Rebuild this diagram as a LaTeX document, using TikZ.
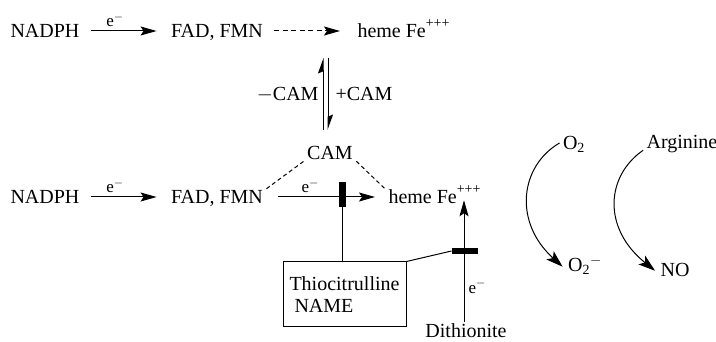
\documentclass[tikz,border=0pt]{standalone}
\usepackage{fontspec}
\setmainfont{Liberation Serif}
\usetikzlibrary{arrows.meta, calc}

\newcommand{\ferric}{Fe\raisebox{0.5em}{\fontsize{14}{14}\selectfont +++}}

\begin{document}
\begin{tikzpicture}[x=1pt, y=-1pt, line width=1pt,
        font=\fontsize{20}{22}\selectfont,
        every node/.style={inner xsep=3pt, inner ysep=1pt, text height=13.5pt, text depth=0pt},
        rxn/.style={-{Stealth[length=16pt, width=9pt, inset=3pt]}},
        curv/.style={-{Stealth[length=17pt, width=11pt, inset=4pt]}},
        harp/.style={-{Stealth[left, length=14pt, width=10pt, inset=2pt]}},
        lbl/.style={font=\fontsize{17}{18}\selectfont, inner sep=1pt, text height=10pt},
        blocker/.style={fill=black, inner sep=0pt, text height=0pt}]
    \useasboundingbox (0,0) rectangle (716,342);

    % Electron transfer, without and with CAM
    \foreach \r/\y in {1/31, 2/197} {
        \node (nadph\r) at (45,\y) {NADPH};
        \node (fad\r) at (217,\y) {FAD, FMN};
        \draw[rxn, shorten <=8pt, shorten >=11pt] (nadph\r) -- node[lbl, above=3pt, pos=0.38] {e$^-$} (fad\r);
    }
    \node[anchor=west] (heme1) at (354,31) {heme \ferric};
    \node[anchor=west] (heme2) at (385,197) {heme \ferric};
    \draw[rxn, dash pattern=on 5pt off 3.5pt, shorten <=8pt, shorten >=14pt] (fad1) -- (heme1);
    \draw[rxn, shorten <=12pt, shorten >=10pt] (fad2) -- node[lbl, above=3pt, pos=0.37] {e$^-$} (heme2);

    % CAM binding
    \coordinate (eqtop) at (325.5,58);
    \coordinate (eqbot) at (325.5,130);
    \draw[harp] ([xshift=-2.5pt]eqbot) -- node[left=1pt] {$-$CAM} ([xshift=-2.5pt]eqtop);
    \draw[harp] ([xshift=2.5pt]eqtop) -- node[right=4pt] {+CAM} ([xshift=2.5pt]eqbot);
    \node (cam) at (330,153) {CAM};
    \draw[dash pattern=on 4pt off 3pt] (fad2.north east) -- (cam.south west);
    \draw[dash pattern=on 4pt off 3pt] (cam.south east) -- (heme2.north west);

    % Inhibitors
    \node[blocker, minimum width=7pt, minimum height=25pt] (blk1) at (342,194.5) {};
    \node[blocker, minimum width=26pt, minimum height=6pt] (blk2) at (465,251) {};
    \node[draw, align=left, minimum width=123pt, minimum height=65pt, text height=, text depth=] (thio) at (344.5,294.5) {Thiocitrulline\\\hspace{5pt}NAME};
    \draw (blk1.south) -- (blk1.south |- thio.north);
    \draw (thio.north east) -- (blk2.west);

    % Dithionite
    \node (dith) at (466,331) {Dithionite};
    \draw[rxn, shorten <=9pt, shorten >=-5pt] ([xshift=-2pt]dith.center) -- node[lbl, right=3pt, pos=0.34] {e$^-$} ([xshift=-2pt]dith.center |- heme2.south);

    % Products
    \node (o2) at (574,143) {O\textsubscript{2}};
    \node (o2m) at (585,265) {O\textsubscript{2}\textsuperscript{$-$}};
    \node (arg) at (682,142) {Arginine};
    \node (no) at (675,270) {NO};
    \draw[curv] (o2.west) .. controls (520,166) and (513,222) .. ([shift={(-2pt,-10pt)}]o2m.north west);
    \draw[curv] (arg.south west) .. controls (606,176) and (602,228) .. ([shift={(-2pt,-9pt)}]no.north west);
\end{tikzpicture}
\end{document}
